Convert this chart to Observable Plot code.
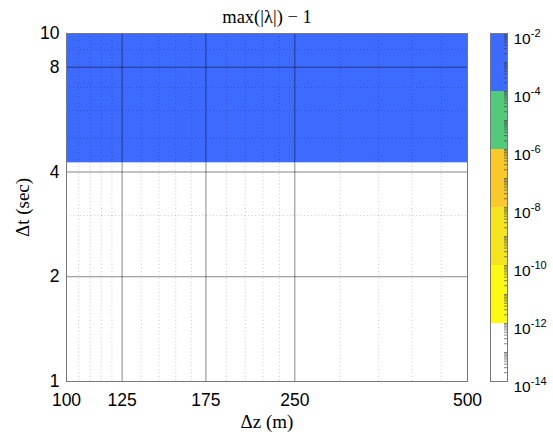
<!DOCTYPE html>
<html><head><meta charset="utf-8">
<script src="https://cdn.jsdelivr.net/npm/d3@7"></script>
<script src="https://cdn.jsdelivr.net/npm/@observablehq/plot@0.6"></script>
<style>
body{margin:0;background:#fff;}
#wrap{position:relative;width:553px;height:432px;overflow:hidden;background:#fff;}
#wrap svg{position:absolute;top:0;}
</style></head><body><div id="wrap"></div>
<script>
// ---- data ----
const dzTicks = [100, 125, 175, 250, 500];
const dzMinor = [105, 110, 115, 120, 135, 145, 155, 165, 190, 205, 220, 235, 300, 350, 400, 450];
const dtTicks = [1, 2, 4, 8, 10];
const dtMinor = [3, 5, 6, 7, 9];
const dzRange = [100, 500];
const dtEdges = [1, 4.25, 10];
const bandValues = [1e-13, 5e-3];
const cbLevels = [1e-14, 1e-12, 1e-10, 1e-8, 1e-6, 1e-4, 1e-2];
const cbColors = ["#ffffff", "#fcf914", "#f4e420", "#f9c92b", "#52c97b", "#3e6bff"];
const cbTickVals = [1e-14, 1e-12, 1e-10, 1e-8, 1e-6, 1e-4, 1e-2];
const titleText = "max(|λ|) − 1";
const xLabelText = "Δz (m)";
const yLabelText = "Δt (sec)";

const bands = dtEdges.slice(0, -1).map((y1, i) => ({x1: dzRange[0], x2: dzRange[1], y1, y2: dtEdges[i + 1], v: bandValues[i]}));
const cbBins = cbLevels.slice(0, -1).map((lo, i) => ({lo, hi: cbLevels[i + 1], mid: Math.sqrt(lo * cbLevels[i + 1])}));
const cbMinor = [];
for (let n = -14; n < -2; n++) for (let k = 1; k <= 9; k++) cbMinor.push(k * Math.pow(10, n));
cbMinor.push(1e-2);

const colorScale = {type: "threshold", domain: cbLevels.slice(1, -1), range: cbColors};
const sans = "'Liberation Sans', Arial, Helvetica, sans-serif";
const serif = "'Liberation Serif', 'Times New Roman', serif";

const main = Plot.plot({
  width: 480, height: 432,
  marginLeft: 66, marginRight: 13, marginTop: 33, marginBottom: 51,
  x: {type: "log", domain: dzRange, axis: null},
  y: {type: "log", domain: [dtEdges[0], dtEdges[dtEdges.length - 1]], axis: null},
  color: colorScale,
  style: {fontFamily: sans, fontSize: "17px", color: "#000", background: "transparent", overflow: "visible"},
  marks: [
    Plot.rect(bands, {x1: "x1", x2: "x2", y1: "y1", y2: "y2", fill: "v"}),
    Plot.ruleX(dzMinor, {stroke: "#000", strokeOpacity: 0.3, strokeWidth: 0.7, strokeDasharray: "1,2.5"}),
    Plot.ruleY(dtMinor, {stroke: "#000", strokeOpacity: 0.3, strokeWidth: 0.7, strokeDasharray: "1,2.5"}),
    Plot.ruleX(dzTicks, {stroke: "#000", strokeOpacity: 0.6, strokeWidth: 0.8}),
    Plot.ruleY(dtTicks, {stroke: "#000", strokeOpacity: 0.6, strokeWidth: 0.8}),
    Plot.frame({stroke: "#777", strokeWidth: 1}),
    Plot.axisX(dzTicks, {tickSize: 0, tickPadding: 12, tickFormat: d => String(d), label: null, fontSize: 17.5}),
    Plot.axisY(dtTicks, {tickSize: 0, tickPadding: 7, tickFormat: d => String(d), label: null, fontSize: 17.5}),
    Plot.text([titleText], {text: d => d, frameAnchor: "top", textAnchor: "middle", dy: -11, lineAnchor: "bottom", fontFamily: serif, fontSize: 18.5, ariaLabel: "ttl"}),
    Plot.text([xLabelText], {text: d => d, frameAnchor: "bottom", textAnchor: "middle", dy: 46, lineAnchor: "bottom", fontFamily: serif, fontSize: 19, ariaLabel: "xlab"}),
    Plot.text([yLabelText], {text: d => d, frameAnchor: "left", textAnchor: "middle", lineAnchor: "middle", dx: -44, rotate: -90, fontFamily: serif, fontSize: 19, ariaLabel: "ylab"})
  ]
});
main.style.left = "0px";

const cb = Plot.plot({
  width: 83, height: 432,
  marginLeft: 20, marginRight: 46, marginTop: 33, marginBottom: 51,
  y: {type: "log", domain: [cbLevels[0], cbLevels[cbLevels.length - 1]], axis: null},
  color: colorScale,
  style: {fontFamily: sans, fontSize: "15px", color: "#000", background: "transparent", overflow: "visible"},
  marks: [
    Plot.rect(cbBins, {y1: "lo", y2: "hi", fill: "mid"}),
    Plot.tickY(cbMinor, {y: d => d, insetLeft: 14, stroke: "#333", strokeWidth: 0.6}),
    Plot.frame({stroke: "#777", strokeWidth: 1}),
    Plot.axisY(cbTickVals, {anchor: "right", tickSize: 0, tickPadding: 6, dy: 6, label: null, fontSize: 15.5,
      tickFormat: d => "10|" + Math.round(Math.log10(d))})
  ]
});
cb.style.left = "470px";

const wrap = document.getElementById("wrap");
wrap.appendChild(main);
wrap.appendChild(cb);

// rich text: italics for math symbols
function rich(sel, parts) {
  d3.select(main).selectAll(`g[aria-label="${sel}"] text`).each(function () {
    const t = d3.select(this);
    t.text(null);
    parts.forEach(([s, it, dx]) => t.append("tspan").attr("font-style", it ? "italic" : null).attr("dx", dx || null).text(s));
  });
}
rich("ttl", [["max(|", false], ["λ", true], ["|) − 1", false]]);
rich("xlab", [["Δ", false], ["z", true, 1], ["(m)", false, 8]]);
rich("ylab", [["Δ", false], ["t", true, 1], ["(sec)", false, 8]]);

// superscript exponents on colorbar labels
d3.select(cb).selectAll("text").each(function () {
  const t = d3.select(this);
  const s = t.text();
  if (!s.includes("|")) return;
  const [base, ex] = s.split("|");
  t.text(null);
  t.append("tspan").text(base);
  t.append("tspan").attr("font-size", 11).attr("dy", -7).text(ex.replace("−", "-"));
});
</script></body></html>
